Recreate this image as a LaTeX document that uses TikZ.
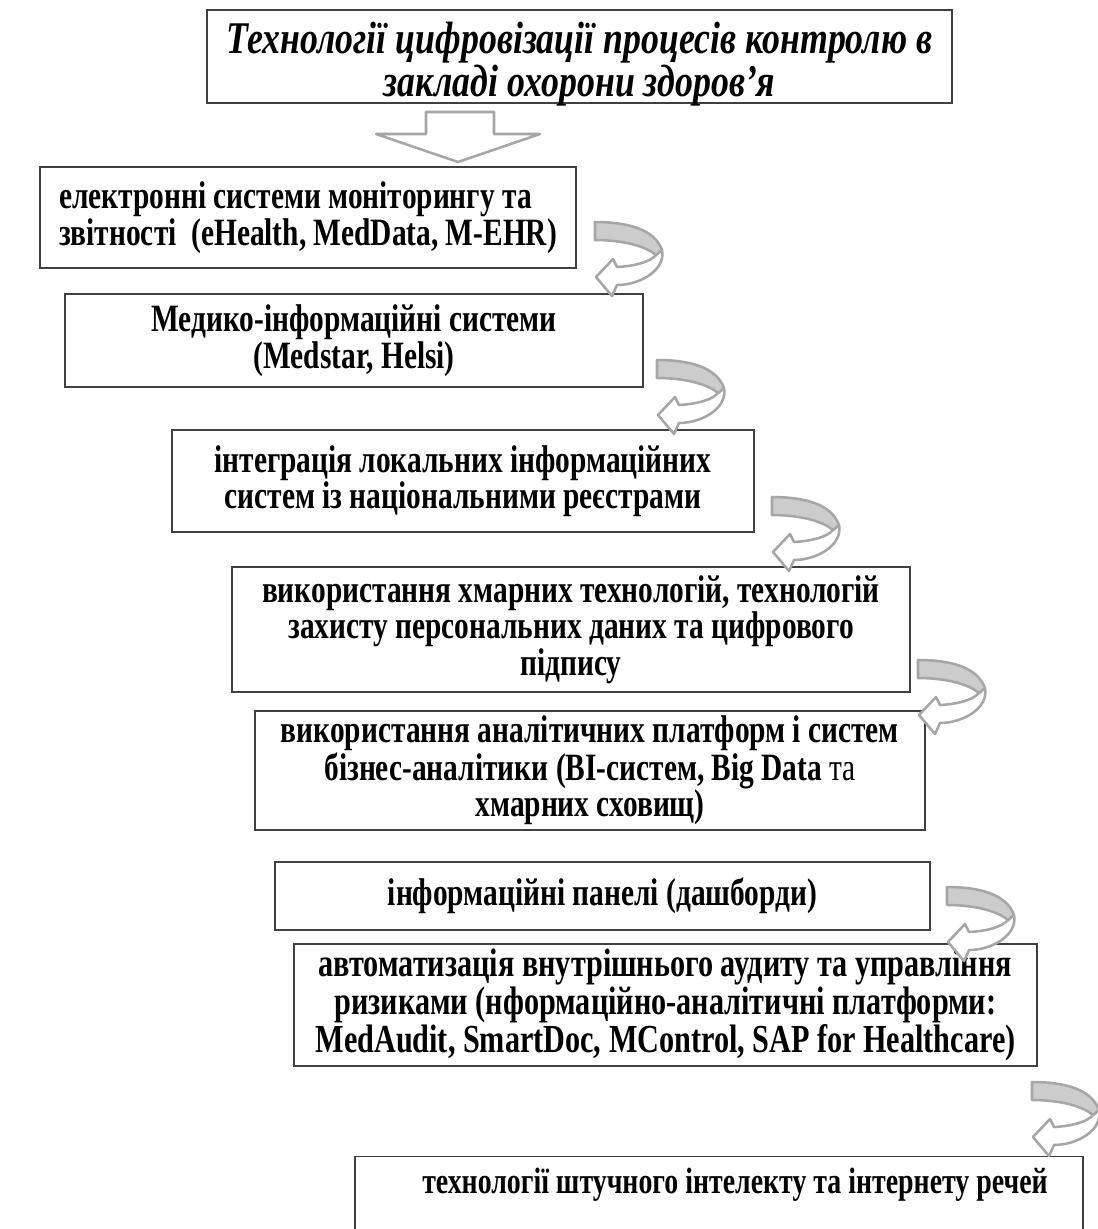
\documentclass[tikz,border=0pt]{standalone}
\usepackage{fontspec}
\setmainfont{Liberation Serif}[FakeStretch=0.76]
\newfontfamily\titlefont{Liberation Serif}[FakeStretch=0.79]
\definecolor{arrgray}{HTML}{A6A6A6}
\definecolor{bandgray}{HTML}{CCCCCC}
\definecolor{boxline}{HTML}{404040}
\tikzset{
  bodyfont/.style={font=\fontsize{29}{26.25}\selectfont\bfseries},
  box/.style={draw=boxline, line width=1.1pt, fill=white, inner sep=0pt, align=center, bodyfont},
  arrowline/.style={draw=arrgray, line width=1.9pt, line join=round},
  uturn/.pic={
    \filldraw[arrowline, fill=white] (67,28) .. controls (71,48) and (45,63) .. (22,63)
      -- (17,74) -- (1,55) -- (18,37) -- (22,45) .. controls (40,44) and (55,40) .. (61,33) -- cycle;
    \filldraw[arrowline, fill=bandgray] (0,0) .. controls (30,0) and (59,6) .. (67,28)
      -- (61,33) .. controls (52,25) and (30,18) .. (0,18) -- cycle;
  }
}
\begin{document}
\begin{tikzpicture}[x=0.75pt,y=-0.75pt]
\useasboundingbox (0,0) rectangle (1098,1229);
\fill[white] (0,0) rectangle (1098,1229);

% title
\node[box, minimum width=558.75pt, minimum height=69.75pt] (title) at (579.5,56.5) {};
\node[inner sep=0pt, align=center, font=\fontsize{34}{30.75}\selectfont\titlefont\bfseries\itshape]
  (titletext) at (579.5,64) {Технології цифровізації процесів контролю в\\ закладі охорони здоров’я};

% hollow down arrow
\filldraw[arrowline, fill=white] (426,112) -- (494,112) -- (494,134) -- (540,134) -- (458,162)
  -- (376,134) -- (426,134) -- cycle;

\node[box, minimum width=402pt, minimum height=75.75pt, align=left] (b1) at (308,217.5)
  {електронні системи моніторингу та\\ звітності \ (eHealth, MedData, M-EHR)};
\node[box, minimum width=433.5pt, minimum height=69.75pt] (b2) at (354,340.5)
  {Медико-інформаційні системи\\ (Medstar, Helsi)};
\node[box, minimum width=436.5pt, minimum height=76.5pt] (b3) at (463,481)
  {інтеграція локальних інформаційних\\ систем із національними реєстрами};
\node[box, minimum width=508.5pt, minimum height=93.75pt] (b4) at (571,629.5)
  {використання хмарних технологій, технологій\\ захисту персональних даних та цифрового\\ підпису};
\node[box, minimum width=502.5pt, minimum height=89.25pt] (b5) at (590,770.5)
  {використання аналітичних платформ і систем\\ бізнес-аналітики (BI-систем, Big Data {\mdseries та}\\ хмарних сховищ)};
\node[box, minimum width=491.25pt, minimum height=51pt] (b6) at (602.5,896)
  {інформаційні панелі (дашборди)};
\node[box, minimum width=557.25pt, minimum height=91.5pt, font=\fontsize{29.8}{26.25}\selectfont\bfseries] (b7) at (665.5,1005)
  {автоматизація внутрішнього аудиту та управління\\ ризиками (нформаційно-аналітичні платформи:\\ MedAudit, SmartDoc, MControl, SAP for Healthcare)};
\node[box, minimum width=546pt, minimum height=82.5pt, anchor=north] (b8) at (719,1156) {};
\node[font=\fontsize{27.5}{26.25}\selectfont\bfseries, inner sep=0pt] (t8) at (735,1185)
  {технології штучного інтелекту та інтернету речей};

% U-turn arrows
\pic at (595,222) {uturn};
\pic at (657,360) {uturn};
\pic at (772,497) {uturn};
\pic at (918,660) {uturn};
\pic at (947,887) {uturn};
\pic at (1032,1082) {uturn};
\end{tikzpicture}
\end{document}
